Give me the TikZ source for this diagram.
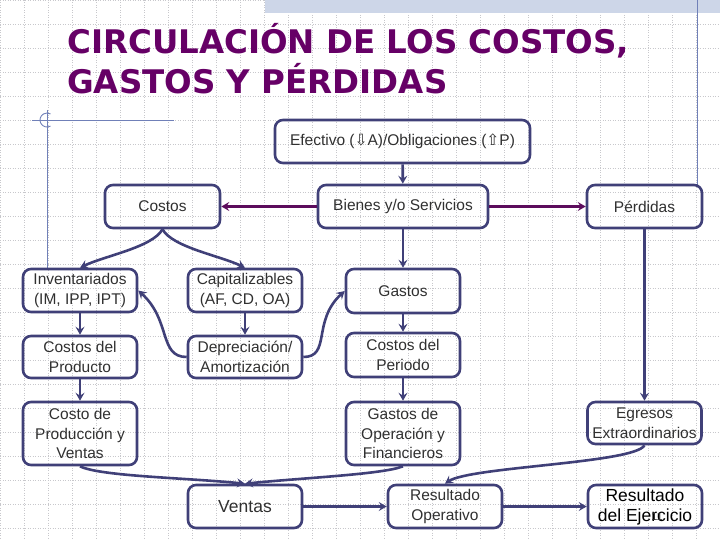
\documentclass[tikz,border=0pt]{standalone}
\usepackage{fontspec}
\setmainfont{Liberation Sans}
\newfontfamily\titlefont{DejaVu Sans}
\newfontfamily\symfont{DejaVu Sans}
\usetikzlibrary{arrows.meta}
\definecolor{navy}{HTML}{404078}
\definecolor{plum}{HTML}{5C0C5C}
\definecolor{ttl}{HTML}{660066}
\definecolor{txt}{HTML}{303030}
\definecolor{gridc}{HTML}{C8C8CC}
\definecolor{band}{HTML}{CDD6E8}
\definecolor{deco}{HTML}{7080B8}
\tikzset{
  box/.style={draw=navy, line width=2.6pt, rounded corners=8pt, minimum width=114pt,
    minimum height=43pt, align=center, text=txt, inner sep=1pt,
    font=\fontsize{15.5}{19.5}\selectfont},
  conn/.style={draw=navy, line width=2.6pt, -{Stealth[length=8pt,width=9pt,inset=3pt]}},
  pconn/.style={draw=plum, line width=2.6pt, -{Stealth[length=8pt,width=9pt,inset=3pt]}},
  ttlstyle/.style={anchor=base west, inner sep=0pt, text=ttl,
    font=\titlefont\bfseries\fontsize{32.5}{36}\selectfont}
}
\begin{document}
\begin{tikzpicture}[x=1pt,y=-1pt]
\useasboundingbox (0,0) rectangle (720,540);
% grid
\foreach \i in {0,24,...,720} \draw[gridc, dotted, line width=0.5pt] (\i,0) -- (\i,540);
\foreach \j in {0,24,...,540} \draw[gridc, dotted, line width=0.5pt] (0,\j) -- (720,\j);
% band and decorations
\fill[band] (265,0) rectangle (720,13);
\draw[deco, line width=0.9pt] (697,0) -- (697,185);
\draw[deco, line width=0.9pt] (32,120) -- (174,120);
\draw[deco, line width=0.9pt] (47,110) -- (47,270);
\draw[deco, line width=0.9pt] (47,120) ++(60:7) arc[start angle=60, end angle=300, radius=7];
% title
\node[ttlstyle] (t1) at (67,54) {CIRCULACIÓN DE LOS COSTOS,};
\node[ttlstyle] (t2) at (67,94) {GASTOS Y PÉRDIDAS};
% boxes
\node[box, minimum width=255pt] (eff) at (402.5,141.5) {Efectivo ({\symfont ⇩}A)/Obligaciones ({\symfont ⇧}P)};
\node[box, minimum width=170pt] (bien) at (403,206.5) {Bienes y/o Servicios};
\node[box, minimum width=115pt] (cost) at (162.5,206.5) {Costos};
\node[box, minimum width=115pt] (perd) at (644.5,206.5) {Pérdidas};
\node[box] (inv) at (80,290.5) {Inventariados\\(IM, IPP, IPT)};
\node[box] (cap) at (245,290.5) {Capitalizables\\(AF, CD, OA)};
\node[box, minimum height=44pt] (gas) at (403,291) {Gastos};
\node[box, minimum height=42pt] (cprod) at (80,357) {Costos del\\Producto};
\node[box, minimum height=42pt] (dep) at (245,357) {Depreciación/\\Amortización};
\node[box, minimum height=44pt] (cper) at (403,355) {Costos del\\Periodo};
\node[box, minimum height=63pt] (cpv) at (80,433.5) {Costo de\\Producción y\\Ventas};
\node[box, minimum height=63pt] (gof) at (403,433.5) {Gastos de\\Operación y\\Financieros};
\node[box, minimum height=42pt] (egr) at (644.5,423) {Egresos\\Extraordinarios};
\node[box, font=\fontsize{17.5}{20}\selectfont] (ven) at (245,506.5) {Ventas};
\node[box] (rop) at (445,506.5) {Resultado\\Operativo};
\node[box, text=black, font=\fontsize{17.5}{20}\selectfont] (rej) at (645,506.5) {Resultado\\del Ejercicio};
\node[text=txt, font=\fontsize{11}{12}\selectfont, inner sep=0pt] (num) at (657,517) {11};
% connectors
\draw[conn] (eff) -- (bien);
\draw[pconn] (bien) -- (cost);
\draw[pconn] (bien) -- (perd);
\draw[conn] (bien) -- (gas);
\draw[conn] (cost.south) .. controls +(-10,18) and +(25,-12) .. (inv.north);
\draw[conn] (cost.south) .. controls +(10,18) and +(-25,-12) .. (cap.north);
\draw[conn] (inv) -- (cprod);
\draw[conn] (cap) -- (dep);
\draw[conn] (dep.west) .. controls +(-28,0) and +(33,30) .. (inv.east);
\draw[conn] (dep.east) .. controls +(28,0) and +(-33,30) .. (gas.west);
\draw[conn] (gas) -- (cper);
\draw[conn] (cper) -- (gof);
\draw[conn] (cprod) -- (cpv);
\draw[conn] (perd) -- (egr);
\draw[conn] (cpv.south) .. controls +(20,10) and +(-60,-6) .. (ven.north);
\draw[conn] (gof.south) .. controls +(-20,8) and +(60,-6) .. (ven.north);
\draw[conn] (egr.south) .. controls +(-10,18) and +(25,-17) .. (rop.north);
\draw[conn] (ven) -- (rop);
\draw[conn] (rop) -- (rej);
\end{tikzpicture}
\end{document}
